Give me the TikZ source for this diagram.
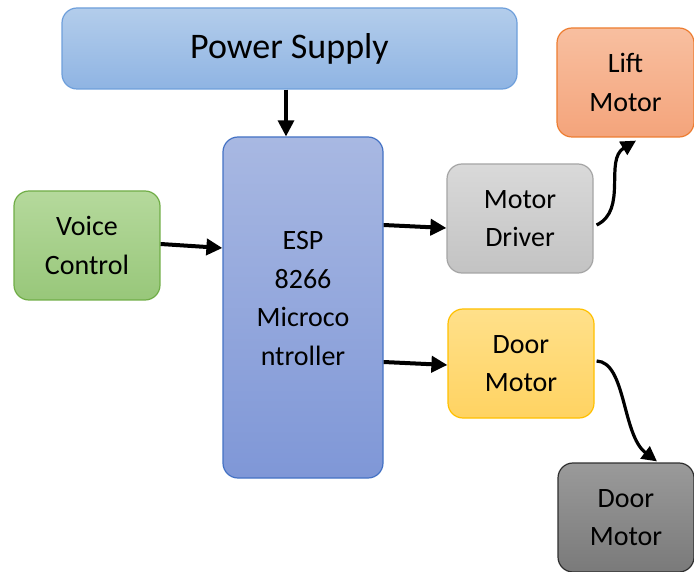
\documentclass[tikz,border=0pt]{standalone}
\usepackage{fontspec}
\setmainfont{Carlito}
\usetikzlibrary{arrows.meta}

\definecolor{psTop}{HTML}{B3CDEB}
\definecolor{psBot}{HTML}{8FB4E3}
\definecolor{psLine}{HTML}{6E9FDB}
\definecolor{vcTop}{HTML}{B5D99C}
\definecolor{vcBot}{HTML}{98C77A}
\definecolor{vcLine}{HTML}{70AD47}
\definecolor{espTop}{HTML}{A8B8E2}
\definecolor{espBot}{HTML}{7F97D7}
\definecolor{espLine}{HTML}{4472C4}
\definecolor{mdTop}{HTML}{D9D9D9}
\definecolor{mdBot}{HTML}{C3C3C3}
\definecolor{mdLine}{HTML}{A5A5A5}
\definecolor{lmTop}{HTML}{F8BFA0}
\definecolor{lmBot}{HTML}{F4A47B}
\definecolor{lmLine}{HTML}{ED7D31}
\definecolor{dmTop}{HTML}{FFE08A}
\definecolor{dmBot}{HTML}{FFD362}
\definecolor{dmLine}{HTML}{FFC000}
\definecolor{gmTop}{HTML}{9A9A9A}
\definecolor{gmBot}{HTML}{7A7A7A}
\definecolor{gmLine}{HTML}{2F2F2F}

\begin{document}
\begin{tikzpicture}[x=1pt,y=-1pt,
    block/.style={rounded corners=15pt,line width=1.2pt,inner sep=0pt,align=center,
        font=\fontsize{28}{38.5}\selectfont},
    link/.style={line width=4pt,-{Triangle[length=16pt,width=16pt]}},
    curvelink/.style={line width=3.2pt,-{Triangle[length=15pt,width=15pt]}}]
    \useasboundingbox (0,0) rectangle (694,572);
    \node[block,draw=psLine,top color=psTop,bottom color=psBot,minimum width=455pt,minimum height=81pt,
        font=\fontsize{36}{40}\selectfont] (ps) at (289.5,48.5) {Power Supply};
    \node[block,draw=vcLine,top color=vcTop,bottom color=vcBot,minimum width=146pt,minimum height=109pt] (vc) at (87,245.5) {Voice\\Control};
    \node[block,draw=espLine,top color=espTop,bottom color=espBot,minimum width=160pt,minimum height=341pt,
        text depth=18pt] (esp) at (303,307.5) {ESP\\8266\\Microco\\ntroller};
    \node[block,draw=mdLine,top color=mdTop,bottom color=mdBot,minimum width=146pt,minimum height=109pt] (md) at (520,218.5) {Motor\\Driver};
    \node[block,draw=lmLine,top color=lmTop,bottom color=lmBot,minimum width=137pt,minimum height=109pt] (lm) at (625.5,82.5) {Lift\\Motor};
    \node[block,draw=dmLine,top color=dmTop,bottom color=dmBot,minimum width=146pt,minimum height=109pt] (dm) at (521,363.5) {Door\\Motor};
    \node[block,draw=gmLine,top color=gmTop,bottom color=gmBot,minimum width=136pt,minimum height=109pt] (gm) at (626,517.5) {Door\\Motor};

    \draw[link,line width=3.2pt] ([xshift=-3.5pt]ps.south) -- ([xshift=-17pt]esp.north);
    \draw[link] ([yshift=1.5pt]vc.east) -- ([yshift=59.5pt]esp.west);
    \draw[link] ([yshift=82.5pt]esp.east) -- ([yshift=-9.5pt]md.west);
    \draw[link] ([yshift=-54.5pt]esp.east) -- ([yshift=-1.5pt]dm.west);
    \draw[curvelink] ([xshift=3pt,yshift=-6.5pt]md.east) .. controls (628,210) and (604,160) .. ([xshift=10.5pt,yshift=-3pt]lm.south);
    \draw[curvelink] ([xshift=2pt,yshift=2.5pt]dm.east) .. controls (626,362) and (622,435) .. ([xshift=31pt,yshift=1pt]gm.north);
\end{tikzpicture}
\end{document}
